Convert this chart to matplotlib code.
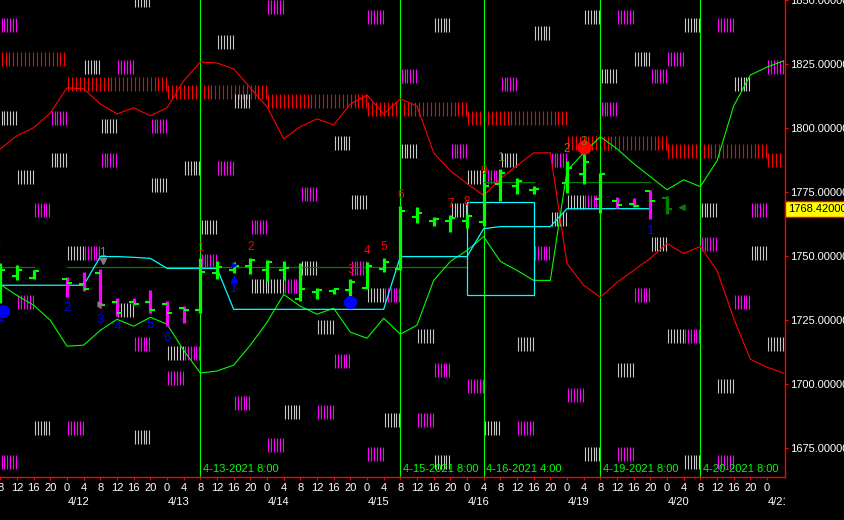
import matplotlib
matplotlib.use("Agg")
import matplotlib.pyplot as plt
from matplotlib.transforms import Bbox, TransformedBbox, blended_transform_factory
from matplotlib.patches import Rectangle

plt.rcParams['font.family'] = ['Liberation Sans', 'DejaVu Sans']

# bar index 0 = 4/12 0:00, one bar every 4 hours (weekend skipped)
bar_idx = [-4, -3, -2, 0, 1, 2, 3, 4, 5, 6, 7, 8, 9, 10, 11, 12, 13, 14, 15, 16, 17, 18,
           19, 20, 21, 22, 23, 24, 25, 26, 27, 28, 30, 31, 32, 33, 34, 35, 36]
opens = [1736.6, 1742.4, 1741.6, 1741.2, 1738.9, 1743.2, 1731.9, 1731.9, 1731.9, 1731.1,
         1729.9, 1728.8, 1743.2, 1744.4, 1746.0, 1744.4, 1744.7, 1733.4, 1735.8, 1736.2,
         1736.6, 1737.7, 1745.1, 1745.1, 1765.4, 1763.8, 1763.8, 1763.8, 1763.4, 1778.2,
         1777.5, 1775.9, 1778.6, 1782.1, 1772.4, 1771.6, 1770.5, 1775.5, 1772.8]
highs = [1747.1, 1746.7, 1744.4, 1742.0, 1743.6, 1745.1, 1733.8, 1733.8, 1736.6, 1732.3,
         1730.3, 1749.1, 1747.9, 1747.5, 1749.4, 1748.6, 1748.2, 1747.1, 1737.7, 1737.3,
         1740.9, 1747.5, 1749.4, 1769.7, 1769.3, 1765.4, 1766.2, 1766.6, 1778.6, 1784.1,
         1780.6, 1777.5, 1787.2, 1792.3, 1782.5, 1773.2, 1772.8, 1775.9, 1773.6]
lows = [1731.5, 1740.5, 1741.2, 1734.2, 1736.2, 1729.6, 1726.4, 1730.7, 1727.6, 1722.5,
        1723.7, 1727.6, 1740.9, 1743.2, 1742.8, 1740.1, 1740.5, 1732.3, 1733.1, 1735.0,
        1733.1, 1737.3, 1743.6, 1744.4, 1763.1, 1761.9, 1759.2, 1761.1, 1761.9, 1771.6,
        1774.4, 1774.4, 1774.7, 1778.2, 1767.0, 1768.9, 1769.3, 1764.6, 1766.6]
closes = [1744.7, 1744.7, 1744.0, 1739.3, 1737.0, 1730.7, 1727.6, 1731.1, 1728.8, 1727.6,
          1728.8, 1743.6, 1745.6, 1746.0, 1748.6, 1747.5, 1745.5, 1737.3, 1736.6, 1737.0,
          1739.7, 1746.3, 1747.5, 1767.7, 1767.0, 1764.6, 1765.0, 1765.8, 1777.5, 1782.5,
          1779.4, 1776.3, 1784.5, 1786.8, 1782.1, 1770.1, 1769.7, 1771.6, 1768.42]

line_idx = list(range(-4, 44))
red_line = [1791.9, 1797.0, 1800.1, 1805.9, 1815.7, 1815.3, 1809.4, 1805.5, 1807.9, 1804.8,
            1807.9, 1818.4, 1825.8, 1825.4, 1823.1, 1815.7, 1808.3, 1795.8, 1800.5, 1803.6,
            1801.2, 1809.4, 1812.9, 1805.5, 1811.4, 1808.6, 1790.3, 1783.3, 1778.3, 1773.6,
            1780.2, 1785.3, 1790.3, 1790.3, 1747.1, 1738.6, 1733.9, 1739.7, 1744.4, 1749.1,
            1754.9, 1751.0, 1753.7, 1744.4, 1725.7, 1709.7, 1706.6, 1704.3]
green_line = [1738.9, 1734.6, 1730.8, 1724.9, 1714.8, 1715.2, 1721.0, 1725.3, 1722.6, 1726.1,
              1723.4, 1713.2, 1704.3, 1705.1, 1707.4, 1715.2, 1724.1, 1735.0, 1730.4, 1727.3,
              1729.6, 1720.3, 1717.9, 1725.7, 1719.5, 1723.0, 1740.5, 1747.9, 1752.2, 1757.6,
              1747.9, 1744.4, 1740.5, 1740.5, 1783.3, 1790.3, 1796.6, 1791.9, 1786.1, 1781.0,
              1775.9, 1779.8, 1777.1, 1787.2, 1808.6, 1820.7, 1823.8, 1826.2]

cyan_idx = list(range(-4, 36))
cyan_step = [1738.6, 1738.6, 1738.6, 1738.6, 1738.6, 1738.6, 1749.8, 1749.8, 1749.5, 1749.1,
             1745.2, 1745.2, 1745.2, 1745.2, 1729.2, 1729.2, 1729.2, 1729.2, 1729.2, 1729.2,
             1729.2, 1729.2, 1729.2, 1729.2, 1749.8, 1749.8, 1749.8, 1749.8, 1749.8, 1760.7,
             1761.5, 1761.5, 1761.5, 1761.5, 1768.5, 1768.5, 1768.5, 1768.5, 1768.5, 1768.5]

# dark green levels: (first bar, last bar, price)
levels = [(-4, -2, 1745.6), (0, 24, 1745.6), (25, 28, 1779.0), (30, 35, 1779.0)]
box = (24, 28, 1734.7, 1771.3)   # cyan box: bars, bottom, top

# red hatched daily bands: (first bar, n bars, top price)
bands = [(-4, 4, 1829.7), (0, 6, 1819.9), (6, 6, 1816.8), (12, 6, 1813.3), (18, 6, 1810.2),
         (24, 6, 1806.7), (30, 6, 1797.0), (36, 6, 1793.8), (42, 1, 1790.3)]

grey_k = [-4, 1, 2, -1, -3, 7, 9, 10, 4, 22, 28, 16, 20, 26, 24, 23, 29, 30, 31, 37, 34, 32,
          40, 5, 8, 0, 11, 12, 3, 6, 17, 14, 18, 15, 21, 27, 38, 35, 41, 36, 42, 33, 39, 25,
          31, 22, 37, 13, 19, -2, 4]
grey_top = [1806.7, 1826.6, 1803.6, 1790.3, 1783.7, 1787.2, 1836.3, 1813.3, 1852.6, 1842.9,
            1839.8, 1797.0, 1793.8, 1790.3, 1783.7, 1770.8, 1767.3, 1774.0, 1846.0, 1842.9,
            1829.7, 1823.1, 1819.9, 1780.6, 1764.2, 1754.1, 1741.2, 1741.2, 1731.5, 1714.7,
            1774.0, 1747.9, 1737.7, 1724.9, 1721.4, 1718.2, 1770.8, 1757.6, 1754.1, 1721.4,
            1718.2, 1708.1, 1701.9, 1685.5, 1675.4, 1672.3, 1672.3, 1691.8, 1688.6, 1685.5,
            1682.0]
mag_k = [-4, 3, -1, 5, 2, 9, 12, 18, 20, 26, 23, 29, 25, 31, 28, 33, 39, 36, 35, 32, 42, -2,
         11, 1, 8, 13, -3, 4, 7, 6, -5, 14, 17, 19, 41, 38, 34, 40, 37, 22, 24, 30, 21, 27,
         33, 39, 16, 10, 15, 12, 18, 0, -4]
mag_top = [1842.9, 1826.6, 1806.7, 1803.6, 1790.3, 1787.2, 1849.9, 1846.0, 1823.1, 1819.9,
           1793.8, 1790.3, 1783.7, 1774.0, 1754.1, 1846.0, 1842.9, 1829.7, 1823.1, 1810.2,
           1826.6, 1770.8, 1764.2, 1754.1, 1750.9, 1741.2, 1734.6, 1718.2, 1714.7, 1705.0,
           1757.6, 1777.1, 1747.9, 1737.7, 1770.8, 1757.6, 1737.7, 1734.6, 1721.4, 1708.1,
           1701.9, 1698.4, 1688.6, 1685.5, 1675.4, 1672.3, 1711.6, 1695.3, 1691.8, 1678.9,
           1675.4, 1685.5, 1672.3]

# wave counts
red_nums = ['1', '2', '3', '4', '5', '6', '7', '8', '9']
red_num_k = [8, 11, 17, 18, 19, 20, 23, 24, 25]
red_num_y = [1753.0, 1753.7, 1744.4, 1751.8, 1753.7, 1774.0, 1770.5, 1771.3, 1783.3]
olive_nums = ['1', '2', '3']
olive_num_k = [26, 30, 31]
olive_num_y = [1788.4, 1791.9, 1794.6]
blue_nums = ['1', '2', '3', '4', '5', '6', '1', '1']
blue_num_k = [-4, 0, 2, 3, 5, 6, 10, 35]
blue_num_y = [1725.7, 1729.6, 1724.9, 1722.2, 1723.0, 1717.9, 1737.0, 1759.6]

blue_dot_k = [-3.85, 17]
blue_dot_y = [1728.4, 1731.9]
red_dot_k, red_dot_y = 31, 1792.7

vline_idx = [8, 20, 25, 32, 38]
vline_labels = ['4-13-2021 8:00', '4-15-2021 8:00', '4-16-2021 4:00', '4-19-2021 8:00',
                '4-20-2021 8:00']

tick_idx = list(range(-4, 43))
hour_labels = ['8', '12', '16', '20',
               '0', '4', '8', '12', '16', '20', '0', '4', '8', '12', '16', '20',
               '0', '4', '8', '12', '16', '20', '0', '4', '8', '12', '16', '20',
               '0', '4', '8', '12', '16', '20', '0', '4', '8', '12', '16', '20',
               '0', '4', '8', '12', '16', '20', '0']
date_idx = [0, 6, 12, 18, 24, 30, 36, 42]
date_labels = ['4/12', '4/13', '4/14', '4/15', '4/16', '4/19', '4/20', '4/21']
price_ticks = [1675, 1700, 1725, 1750, 1775, 1800, 1825, 1850]

W, H = 844, 520
fig = plt.figure(figsize=(W / 100, H / 100), dpi=100, facecolor='black')
ax = fig.add_axes([0, 43 / H, 785 / W, 477 / H], facecolor='black')
ax.set_xlim(-4.02, 43.08)
ax.set_ylim(1663.71, 1849.54)

LADDER_H = 5.45
# red hatched bands
for k0, n, top in bands:
    xs = [k0 + 0.08 + 0.235 * j for j in range(int(n / 0.235) + 1) if 0.08 + 0.235 * j < n]
    ax.vlines(xs, top - LADDER_H, top, color='#ff0000', lw=0.8, zorder=1)

# ladders
for ks, tops, col in [(grey_k, grey_top, '#c8c8c8'), (mag_k, mag_top, '#ff00ff')]:
    for k, top in zip(ks, tops):
        xs = [k + 0.08 + 0.17 * j for j in range(6)]
        ax.vlines(xs, top - LADDER_H, top, color=col, lw=0.8, zorder=1)

# vertical session lines
for k, lab in zip(vline_idx, vline_labels):
    ax.axvline(k, color='#00ff00', lw=0.8, zorder=2)
    ax.text(k + 0.15, 1666.8, lab, color='#00ff00', fontsize=8, va='center', ha='left', zorder=6)

for a, b, p in levels:
    ax.plot([a, b], [p, p], color='#008000', lw=0.9, zorder=3)

ax.plot(line_idx, red_line, color='#ff0000', lw=0.8, zorder=3)
ax.plot(line_idx, green_line, color='#00ff00', lw=0.8, zorder=3)
ax.plot(cyan_idx, cyan_step, color='#00ffff', lw=0.9, zorder=3)
ax.add_patch(Rectangle((box[0], box[2]), box[1] - box[0], box[3] - box[2],
                       fill=False, ec='#00ffff', lw=0.9, zorder=3))

# OHLC bars
for i, (k, o, h, l, c) in enumerate(zip(bar_idx, opens, highs, lows, closes)):
    if i == len(bar_idx) - 1:
        col, tcol = '#008000', '#008000'
    else:
        col = '#00ff00' if c >= o else '#ff00ff'
        tcol = '#00ff00'
    ax.vlines(k, l, h, color=col, lw=2.3, zorder=4)
    ax.hlines(o, k - 0.3, k, color=tcol, lw=1.5, zorder=4)
    ax.hlines(c, k, k + 0.3, color=tcol, lw=1.5, zorder=4)

ax.scatter(blue_dot_k, blue_dot_y, s=90, color='#0000ff', zorder=5, lw=0)
ax.scatter([red_dot_k], [red_dot_y], s=105, color='#ff0000', zorder=5, lw=0)
ax.plot([2.15], [1747.9], marker='v', color='#808080', ms=4, zorder=5)
ax.plot([2.0], [1731.1], marker='>', color='#808080', ms=3.5, zorder=5)
ax.plot([10.0], [1740.9], marker='^', color='#0000ff', ms=4, zorder=5)
ax.plot([10.0], [1746.5], marker='>', color='#0000ff', ms=3, zorder=5)
ax.annotate('', xy=(36.5, 1768.9), xytext=(37.2, 1768.9),
            arrowprops=dict(arrowstyle='-|>', color='#008000', lw=1.2, mutation_scale=9), zorder=5)

for t, k, y in zip(red_nums, red_num_k, red_num_y):
    ax.text(k, y, t, color='#ff0000', fontsize=8.5, ha='center', va='center', zorder=6)
for t, k, y in zip(olive_nums, olive_num_k, olive_num_y):
    ax.text(k, y, t, color='#808000', fontsize=8.5, ha='center', va='center', zorder=6)
for t, k, y in zip(blue_nums, blue_num_k, blue_num_y):
    ax.text(k, y, t, color='#0000ff', fontsize=9.5, ha='center', va='center', zorder=6)
ax.text(2.1, 1751.0, '1', color='#808080', fontsize=8.5, ha='center', va='center', zorder=6)

# axes styling
for s in ['top', 'left']:
    ax.spines[s].set_visible(False)
for s in ['right', 'bottom']:
    ax.spines[s].set_color('#ff0000')
    ax.spines[s].set_linewidth(1.0)

ax.yaxis.tick_right()
ax.set_yticks(price_ticks)
ax.set_yticklabels([f'{p:.5f}' for p in price_ticks])
ax.set_xticks(tick_idx)
ax.set_xticklabels(hour_labels)
ax.tick_params(axis='both', colors='#ff0000', labelcolor='white', labelsize=8, length=2.5, width=0.8)
ax.tick_params(axis='x', pad=2)
ax.tick_params(axis='y', pad=1.5)

clip = TransformedBbox(Bbox([[0, 0], [785 / W, 1]]), fig.transFigure)
trans = blended_transform_factory(ax.transData, ax.transAxes)
for k, lab in zip(date_idx, date_labels):
    t = ax.text(k + 0.02, -0.052, lab, color='white', fontsize=8, ha='left', va='center',
                transform=trans, clip_on=True)
    t.set_clip_box(clip)

# last price label
ptrans = blended_transform_factory(fig.transFigure, ax.transData)
ax.text(788 / W, closes[-1], f'{closes[-1]:.5f}', transform=ptrans, color='black', fontsize=8,
        ha='left', va='center', clip_on=False, zorder=10,
        bbox=dict(boxstyle='square,pad=0.25', fc='#ffff00', ec='#ff0000', lw=1))

fig.savefig('out.png', dpi=100, facecolor='black')
